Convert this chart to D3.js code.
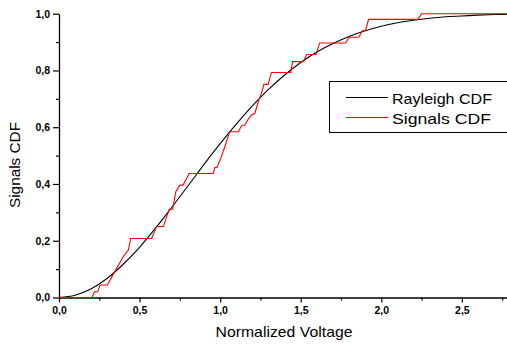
<!DOCTYPE html>
<html><head><meta charset="utf-8">
<script src="https://cdn.jsdelivr.net/npm/d3@7"></script>
<style>body{margin:0;background:#fff}svg{display:block}</style>
</head><body><svg id="c" width="507" height="345"></svg>
<script>
const xTicks = [0, 0.5, 1.0, 1.5, 2.0, 2.5];
const yTicks = [0, 0.2, 0.4, 0.6, 0.8, 1.0];
const rayX = [0,0.1,0.2,0.3,0.4,0.5,0.6,0.7,0.8,0.9,1.0,1.1,1.2,1.3,1.4,1.5,1.6,1.7,1.8,1.9,2.0,2.1,2.2,2.3,2.4,2.5,2.6,2.7,2.8];
const rayY = [0,0.008,0.031,0.068,0.118,0.177,0.245,0.318,0.393,0.469,0.542,0.611,0.675,0.733,0.784,0.828,0.865,0.895,0.920,0.940,0.956,0.968,0.977,0.984,0.989,0.992,0.995,0.997,0.998];
const sigX = [0,0.205,0.22,0.24,0.255,0.30,0.34,0.40,0.43,0.445,0.575,0.605,0.648,0.668,0.685,0.705,0.725,0.75,0.77,0.808,0.957,0.967,0.98,1.01,1.043,1.058,1.077,1.112,1.133,1.153,1.174,1.195,1.215,1.24,1.257,1.271,1.298,1.318,1.438,1.449,1.515,1.538,1.595,1.617,1.779,1.80,1.86,1.883,1.902,1.921,2.228,2.249,2.8];
const sigY = [0,0,0.02,0.02,0.044,0.044,0.085,0.145,0.167,0.208,0.208,0.25,0.25,0.285,0.311,0.311,0.373,0.396,0.396,0.437,0.437,0.458,0.458,0.5,0.555,0.583,0.584,0.584,0.605,0.608,0.628,0.643,0.649,0.696,0.72,0.751,0.751,0.793,0.793,0.831,0.831,0.856,0.856,0.897,0.897,0.917,0.917,0.94,0.94,0.98,0.98,1.0,1.0];
const seriesNames = ["Rayleigh CDF", "Signals CDF"];
const seriesColors = ["#000000", "#ff0000"];

const svg = d3.select("#c");
const x = d3.scaleLinear().domain([0, 2.78]).range([59, 507]);
const y = d3.scaleLinear().domain([0, 1]).range([297.5, 13.7]);
const font = "Arial, 'Liberation Sans', sans-serif";

const fmt = d => d3.format(".1f")(d).replace(".", ",");

// x axis
const gx = svg.append("g").attr("transform", `translate(0,${y(0)})`);
gx.call(d3.axisBottom(x).tickValues(d3.range(0.25, 2.78, 0.5)).tickSize(3).tickFormat(""));
gx.call(g => g.selectAll(".domain").remove());
const gx2 = svg.append("g").attr("transform", `translate(0,${y(0)})`);
gx2.call(d3.axisBottom(x).tickValues(xTicks).tickSize(5).tickSizeOuter(0).tickPadding(4).tickFormat(fmt));
// y axis
const gy = svg.append("g").attr("transform", `translate(${x(0)},0)`);
gy.call(d3.axisLeft(y).tickValues(d3.range(0.1, 1, 0.2)).tickSize(3).tickFormat(""));
gy.call(g => g.selectAll(".domain").remove());
const gy2 = svg.append("g").attr("transform", `translate(${x(0)},0)`);
gy2.call(d3.axisLeft(y).tickValues(yTicks).tickSize(6).tickSizeOuter(0).tickPadding(3).tickFormat(fmt));

svg.selectAll(".domain").attr("stroke", "#000").attr("stroke-width", 1.3);
svg.selectAll(".tick line").attr("stroke", "#000").attr("stroke-width", 1.2);
svg.selectAll(".tick text").attr("font-family", font).attr("font-size", 10.5).attr("font-weight", "bold").attr("fill", "#000");

// curves
const line = d3.line().x(d => x(d[0])).y(d => y(d[1]));
svg.append("path").datum(rayX.map((v, i) => [v, rayY[i]]))
  .attr("d", line.curve(d3.curveMonotoneX)).attr("fill", "none").attr("stroke", seriesColors[0]).attr("stroke-width", 1.1);
svg.append("path").datum(sigX.map((v, i) => [v, sigY[i]]))
  .attr("d", d3.line().x(d => x(d[0])).y(d => y(d[1]))).attr("fill", "none").attr("stroke", seriesColors[1]).attr("stroke-width", 1.1);

// legend
svg.append("rect").attr("x", 329.5).attr("y", 81.5).attr("width", 190).attr("height", 51)
  .attr("fill", "#fff").attr("stroke", "#000").attr("stroke-width", 1);
const legendLens = [100, 99];
seriesNames.forEach((n, i) => {
  const ly = 97.5 + i * 20;
  svg.append("line").attr("x1", 346).attr("x2", 388).attr("y1", ly).attr("y2", ly)
    .attr("stroke", seriesColors[i]).attr("stroke-width", 1.1);
  svg.append("text").attr("x", 392).attr("y", ly + 6).text(n)
    .attr("textLength", legendLens[i]).attr("lengthAdjust", "spacingAndGlyphs")
    .attr("font-family", font).attr("font-size", 15).attr("fill", "#000");
});

// axis titles
svg.append("text").attr("x", 284).attr("y", 337).attr("text-anchor", "middle")
  .attr("textLength", 137).attr("lengthAdjust", "spacingAndGlyphs")
  .attr("font-family", font).attr("font-size", 15).text("Normalized Voltage");
svg.append("text").attr("transform", "translate(20,165) rotate(-90)").attr("text-anchor", "middle")
  .attr("textLength", 86).attr("lengthAdjust", "spacingAndGlyphs")
  .attr("font-family", font).attr("font-size", 15).text("Signals CDF");
</script></body></html>
